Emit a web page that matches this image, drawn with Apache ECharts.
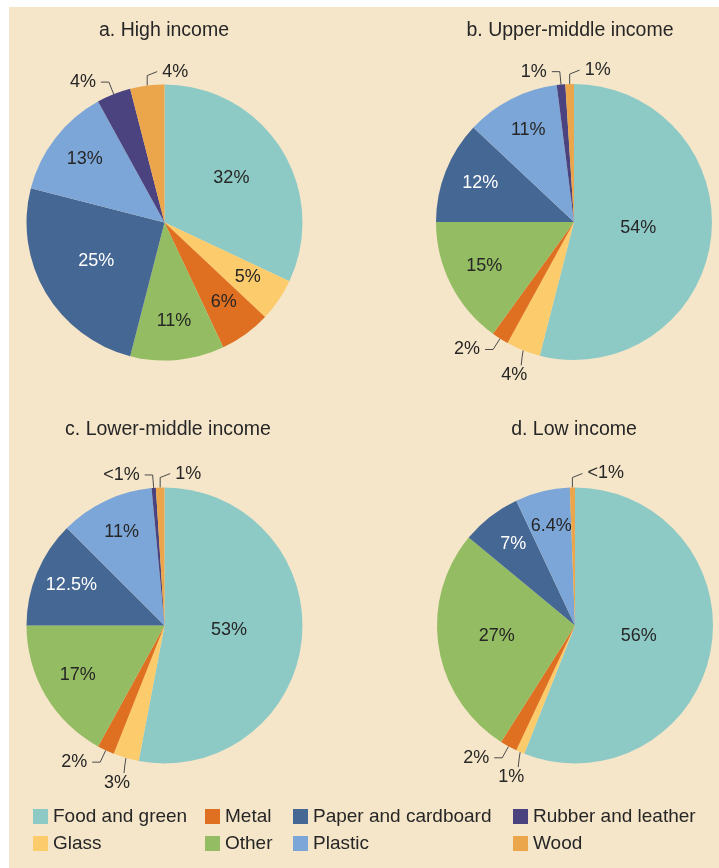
<!DOCTYPE html>
<html lang="en">
<head>
  <meta charset="UTF-8">
  <title>Waste composition by income level</title>
  <style>
    html, body { margin: 0; padding: 0; background: #ffffff; }
    #panel { position: absolute; left: 9px; top: 7px; width: 710px; height: 861px; background: #f5e6c9; }
    #chart { position: absolute; left: 0; top: 0; width: 719px; height: 868px; }
  </style>
</head>
<body>
  <div id="panel"></div>
  <div id="chart"></div>

<script src="https://cdn.jsdelivr.net/npm/echarts@6/dist/echarts.min.js"></script>
<script>
  // data (percent of total waste)
  var categories = ['Food and green', 'Glass', 'Metal', 'Other', 'Paper and cardboard', 'Plastic', 'Rubber and leather', 'Wood']
  var panelTitles = ['a. High income', 'b. Upper-middle income', 'c. Lower-middle income', 'd. Low income']
  var highIncome = [32, 5, 6, 11, 25, 13, 4, 4]
  var upperMiddleIncome = [54, 4, 2, 15, 12, 11, 1, 1]
  var lowerMiddleIncome = [53, 3, 2, 17, 12.5, 11, 0.5, 1]
  var lowIncome = [56, 1, 2, 27, 7, 6.4, 0, 0.6]
  var legendColumns = [
    ['Food and green', 'Glass'],
    ['Metal', 'Other'],
    ['Paper and cardboard', 'Plastic'],
    ['Rubber and leather', 'Wood']
  ]

  // styling
  var colors = ['#8ecac5', '#fccb6c', '#df6f21', '#94bc62', '#456793', '#7ca6d8', '#4a4380', '#eba54a']
  var centers = [[164.5, 222.5], [574, 222], [164.5, 625.5], [575, 625.5]]
  var titlePos = [[164, 21], [570, 21], [168, 420], [574, 420]]
  var legendLeft = [33, 205, 293, 513]
  var radius = 138
  var textColor = '#262626'
  var fontFamily = '"Liberation Sans", Arial, sans-serif'
  var allValues = [highIncome, upperMiddleIncome, lowerMiddleIncome, lowIncome]

  var myChart = echarts.init(document.getElementById('chart'), null, { renderer: 'canvas' })

  function pctText(v) {
    return v < 1 ? '<1%' : v + '%'
  }

  // push inside labels out along the radius, put small labels where the figure has them
  function makeLabelLayout(values, c) {
    return function (params) {
      var v = values[params.dataIndex]
      var name = categories[params.dataIndex]
      var rect = params.labelRect
      if (v >= 5) {
        var k = (v >= 50 ? 0.45 : v >= 20 ? 0.55 : 0.7) / 0.5
        var lx = rect.x + rect.width / 2
        var ly = rect.y + rect.height / 2
        return { x: c[0] + (lx - c[0]) * k, y: c[1] + (ly - c[1]) * k - 2 }
      }
      var pts = params.labelLinePoints
      if (!pts) return {}
      var p0 = pts[0]
      if (name === 'Wood') {
        return {
          x: p0[0] + 15, y: p0[1] - 14, align: 'left', verticalAlign: 'middle',
          labelLinePoints: [p0, [p0[0], p0[1] - 10], [p0[0] + 10, p0[1] - 14]]
        }
      }
      if (name === 'Glass') {
        return {
          x: p0[0] - 9, y: p0[1] + 25, align: 'center', verticalAlign: 'middle',
          labelLinePoints: [p0, [p0[0] - 1, p0[1] + 6], [p0[0] - 2, p0[1] + 15]]
        }
      }
      return {}
    }
  }

  var series = allValues.map(function (values, s) {
    return {
      type: 'pie',
      center: centers[s],
      radius: radius,
      startAngle: 90,
      clockwise: true,
      avoidLabelOverlap: false,
      itemStyle: { borderWidth: 0 },
      label: {
        show: true,
        fontSize: 18,
        color: textColor,
        fontFamily: fontFamily,
        distanceToLabelLine: 5,
        formatter: function (p) { return pctText(p.value) }
      },
      labelLine: {
        show: true,
        length: 13,
        length2: 8,
        lineStyle: { color: '#4a4a4a', width: 1 }
      },
      labelLayout: makeLabelLayout(values, centers[s]),
      data: categories.map(function (name, i) {
        var v = values[i]
        var inside = v >= 5
        return {
          name: name,
          value: v,
          itemStyle: { color: colors[i] },
          label: {
            show: v > 0,
            position: inside ? 'inside' : 'outside',
            color: name === 'Paper and cardboard' ? '#ffffff' : textColor
          },
          labelLine: { show: !inside && v > 0 }
        }
      })
    }
  })

  var option = {
    animation: false,
    textStyle: { fontFamily: fontFamily },
    title: panelTitles.map(function (t, i) {
      return {
        text: t,
        left: titlePos[i][0],
        top: titlePos[i][1],
        textAlign: 'center',
        padding: 0,
        textStyle: { fontSize: 19.5, fontWeight: 'normal', color: textColor, fontFamily: fontFamily }
      }
    }),
    legend: legendColumns.map(function (col, i) {
      return {
        orient: 'vertical',
        left: legendLeft[i],
        top: 807,
        padding: 0,
        itemWidth: 15,
        itemHeight: 15,
        itemGap: 8,
        icon: 'rect',
        selectedMode: false,
        data: col,
        textStyle: { fontSize: 19, color: textColor, fontFamily: fontFamily }
      }
    }),
    series: series
  }

  myChart.setOption(option)
</script>
</body>
</html>
